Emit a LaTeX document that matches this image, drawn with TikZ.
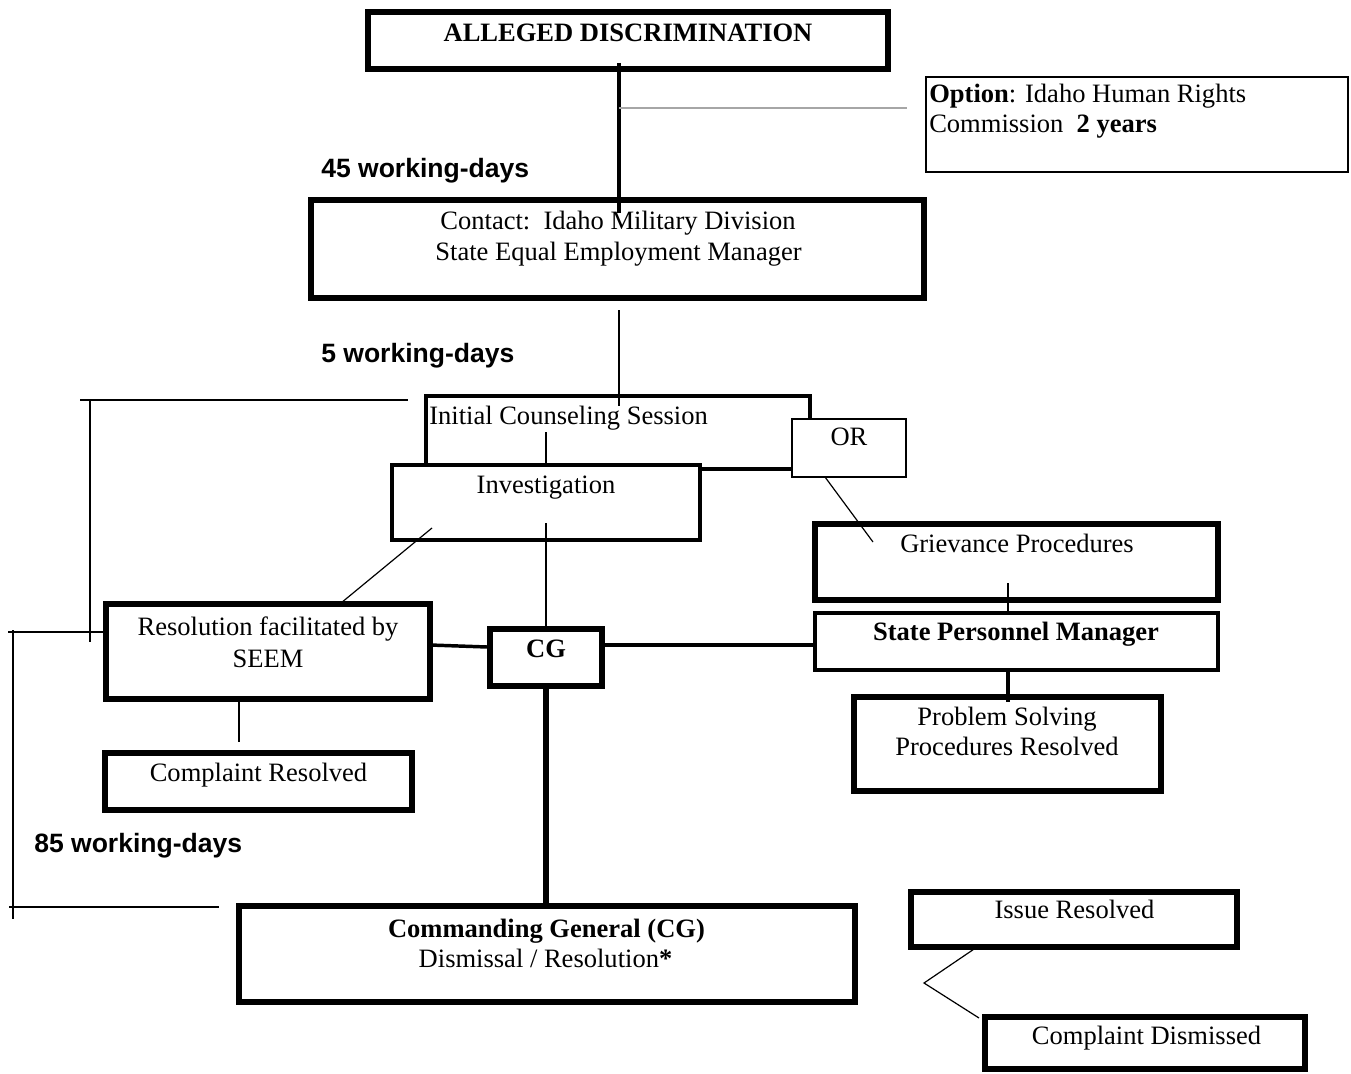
\documentclass[tikz,border=0pt]{standalone}
\usepackage{fontspec}
\setmainfont{Liberation Serif}
\newfontfamily\arialfont{Liberation Sans}
\begin{document}
\begin{tikzpicture}[x=0.75pt,y=-0.75pt,
  box/.style={draw, fill=white, inner sep=0pt},
  txt/.style={anchor=base, inner sep=0pt, font=\fontsize{19.9}{23}\selectfont},
  btxt/.style={anchor=base, inner sep=0pt, font=\fontsize{19.9}{23}\selectfont\bfseries},
  ltxt/.style={anchor=base west, inner sep=0pt, font=\fontsize{19.9}{23}\selectfont},
  lab/.style={anchor=base west, inner sep=0pt, font=\arialfont\fontsize{19.9}{23}\selectfont\bfseries},
  thinln/.style={line width=0.9pt},
]
\useasboundingbox (0,0) rectangle (1351,1073);

% ---- top part
\node[box, line width=5pt, minimum width=390pt, minimum height=42.75pt] (alleged) at (628,40.5) {};
\node[btxt] (tAlleged) at (628,42) {ALLEGED DISCRIMINATION};

\node[box, line width=1.1pt, minimum width=316.5pt, minimum height=71.25pt] (option) at (1137,124.5) {};
\node[ltxt] (tOpt1) at (929,103) {\textbf{Option}: Idaho Human Rights};
\node[ltxt] (tOpt2) at (929,133) {Commission\ \ \textbf{2 years}};

\node[box, line width=4.2pt, minimum width=459.75pt, minimum height=73.5pt] (contact) at (617.5,249) {};
\node[txt] (tContact1) at (618,229) {Contact:\ \ Idaho Military Division};
\node[txt] (tContact2) at (618.5,260) {State Equal Employment Manager};

\coordinate (aTop) at (619,63);
\coordinate (aBot) at (619,213);
\draw[line width=2.4pt] (aTop) -- (aBot);
\coordinate (gStart) at (619,108);
\coordinate (gEnd) at (907,108);
\draw[line width=0.9pt, gray!70] (gStart) -- (gEnd);

\node[lab] (l45) at (321,178) {45 working-days};
\node[lab] (l5) at (321,362) {5 working-days};
\node[lab] (l85) at (34,852) {85 working-days};

% ---- counselling / investigation
\node[box, line width=3.4pt, minimum width=288pt, minimum height=54.75pt] (initial) at (618,432.5) {};
\node[ltxt] (tInitial) at (429,424) {Initial Counseling Session};

\coordinate (cStart) at (619,310);
\coordinate (cEnd) at (619,406);
\draw[thinln] (cStart) -- (cEnd);

\coordinate (iStart) at (546,432);
\draw[thinln] (iStart) -- (546,468);

\node[box, line width=3.6pt, minimum width=231pt, minimum height=56.25pt] (invest) at (546,502.5) {};
\node[txt] (tInvest) at (546,493) {Investigation};

\node[box, line width=1.1pt, minimum width=85.5pt, minimum height=43.5pt] (or) at (849,448) {};
\node[txt] (tOr) at (849,445) {OR};

% ---- right column
\node[box, line width=4.2pt, minimum width=302.25pt, minimum height=57pt] (griev) at (1016.5,562) {};
\node[txt] (tGriev) at (1017,552) {Grievance Procedures};

\node[box, line width=2.6pt, minimum width=302.25pt, minimum height=42.75pt] (spm) at (1016.5,641.5) {};
\node[btxt] (tSpm) at (1016,640) {State Personnel Manager};

\node[box, line width=3.8pt, minimum width=230.25pt, minimum height=70.5pt] (problem) at (1007.5,744) {};
\node[txt] (tProb1) at (1007,725) {Problem Solving};
\node[txt] (tProb2) at (1007,755) {Procedures Resolved};

\coordinate (oStart) at (825,477);
\coordinate (oEnd) at (873,542);
\draw[thinln] (oStart) -- (oEnd);
\coordinate (gvIn) at (1008,583);
\draw[thinln] (gvIn) -- (1008,613);
\draw[line width=3.2pt] (spm.south -| 1008,0) -- (1008,702);

% ---- left / centre
\node[box, line width=4.2pt, minimum width=243pt, minimum height=71.25pt] (resol) at (268,651.5) {};
\node[txt] (tRes1) at (268,635) {Resolution facilitated by};
\node[txt] (tRes2) at (268,667) {SEEM};

\node[box, line width=4.2pt, minimum width=84pt, minimum height=42.75pt] (cg) at (546,657.5) {};
\node[btxt] (tCg) at (546,657) {CG};

\node[box, line width=3.8pt, minimum width=230.25pt, minimum height=42.75pt] (complres) at (258.5,781.5) {};
\node[txt] (tComplRes) at (258.5,781) {Complaint Resolved};

\node[box, line width=4.6pt, minimum width=462pt, minimum height=72pt] (command) at (547,954) {};
\node[btxt] (tCmd1) at (546.5,937) {Commanding General (CG)};
\node[txt] (tCmd2) at (545.5,967) {Dismissal / Resolution\textbf{*}};

\node[box, line width=3.8pt, minimum width=244.5pt, minimum height=41.25pt] (issue) at (1074,919.5) {};
\node[txt] (tIssue) at (1074.5,918) {Issue Resolved};

\node[box, line width=3.8pt, minimum width=240pt, minimum height=39pt] (dismiss) at (1145,1043) {};
\node[txt] (tDismiss) at (1146.5,1044) {Complaint Dismissed};

% connectors
\coordinate (ivIn) at (546,523);
\draw[thinln] (ivIn) -- (cg.north);
\coordinate (dStart) at (432,528);
\coordinate (dEnd) at (341,603);
\draw[thinln] (dStart) -- (dEnd);
\draw[line width=2.6pt] (430,645) -- (cg.west |- 0,647);
\draw[line width=2.4pt] (cg.east |- 0,645) -- (spm.west |- 0,645);
\coordinate (rcEnd) at (239,742);
\draw[thinln] (resol.south -| 239,0) -- (rcEnd);
\draw[line width=4pt] (cg.south) -- (command.north -| 546,0);

\coordinate (zA) at (980,945);
\coordinate (zB) at (924,983);
\coordinate (zC) at (979,1018);
\draw[thinln] (zA) -- (zB) -- (zC);

% brackets
\coordinate (b1a) at (80,400);
\coordinate (b1b) at (408,400);
\coordinate (b1c) at (90,642);
\draw[thinln] (b1a) -- (b1b);
\draw[thinln] (90,400) -- (b1c);
\coordinate (b2a) at (8,632);
\draw[thinln] (b2a) -- (resol.west |- 0,632);
\coordinate (b2b) at (13,919);
\draw[thinln] (13,630) -- (b2b);
\coordinate (b3a) at (9,907);
\coordinate (b3b) at (219,907);
\draw[line width=1.4pt] (b3a) -- (b3b);
\end{tikzpicture}
\end{document}
